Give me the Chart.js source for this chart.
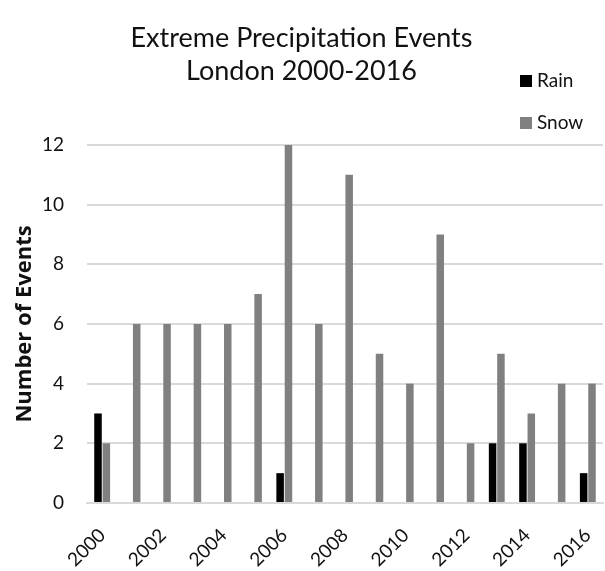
<!DOCTYPE html>
<html>
<head>
<meta charset="utf-8">
<script src="https://cdn.jsdelivr.net/npm/chart.js@4"></script>
<style>
  html, body { margin: 0; padding: 0; background: #fff; }
  #wrap { width: 605px; height: 571px; position: relative; }
</style>
</head>
<body>
<div id="wrap"><canvas id="c"></canvas></div>
<script>
const years = ['2000','2001','2002','2003','2004','2005','2006','2007','2008',
               '2009','2010','2011','2012','2013','2014','2015','2016'];
const rainEvents = [3, 0, 0, 0, 0, 0, 1, 0, 0, 0, 0, 0, 0, 2, 2, 0, 1];
const snowEvents = [2, 6, 6, 6, 6, 7, 12, 6, 11, 5, 4, 9, 2, 5, 3, 4, 4];
const yTicks = [0, 2, 4, 6, 8, 10, 12];

const FONT = 'Lato, "Open Sans", sans-serif';

// Stacked legend in the upper right, next to the title
const sideLegend = {
  id: 'sideLegend',
  afterDraw(chart) {
    const ctx = chart.ctx;
    ctx.save();
    ctx.font = '19px ' + FONT;
    ctx.textBaseline = 'middle';
    const items = [[0, 81], [1, 123]];
    items.forEach(([i, y]) => {
      const ds = chart.data.datasets[i];
      ctx.fillStyle = ds.backgroundColor;
      ctx.fillRect(520, y - 6, 12, 12);
      ctx.fillStyle = '#111';
      ctx.fillText(ds.label, 537, y);
    });
    ctx.restore();
  }
};

new Chart(document.getElementById('c'), {
  type: 'bar',
  data: {
    labels: years,
    datasets: [
      { label: 'Rain', data: rainEvents, backgroundColor: '#000000' },
      { label: 'Snow', data: snowEvents, backgroundColor: '#808080' }
    ]
  },
  options: {
    responsive: true,
    maintainAspectRatio: false,
    animation: false,
    categoryPercentage: 0.55,
    barPercentage: 0.9,
    layout: { padding: { left: 0, right: 2, top: 0, bottom: 0 } },
    plugins: {
      legend: { display: false },
      tooltip: { enabled: false },
      title: {
        display: true,
        text: ['Extreme Precipitation Events', 'London 2000-2016'],
        color: '#111',
        font: { family: FONT, size: 27, weight: 'normal', lineHeight: 1.22 },
        padding: { top: 22, bottom: 57 }
      }
    },
    scales: {
      x: {
        grid: { display: false },
        border: { display: true, color: '#d9d9d9', width: 2 },
        afterFit: (scale) => {
          scale.height = 68;
          scale.paddingLeft = 0;
          scale.paddingRight = 0;
        },
        ticks: {
          autoSkip: false,
          minRotation: 45,
          maxRotation: 45,
          color: '#111',
          font: { family: FONT, size: 19 },
          padding: 13,
          callback: function (v, i) { return i % 2 === 0 ? this.getLabelForValue(v) : ''; }
        }
      },
      y: {
        min: 0,
        max: 12,
        afterBuildTicks: (axis) => { axis.ticks = yTicks.map(v => ({ value: v })); },
        afterFit: (scale) => { scale.width = 87; },
        grid: { color: '#d9d9d9', lineWidth: 2, drawTicks: false },
        border: { display: false },
        ticks: {
          color: '#111',
          font: { family: FONT, size: 19 },
          padding: 23
        },
        title: {
          display: true,
          text: 'Number of Events',
          color: '#111',
          font: { family: '"Open Sans", Lato, sans-serif', size: 22, weight: 'bold' },
          padding: { top: 12, bottom: 0 }
        }
      }
    }
  },
  plugins: [sideLegend]
});
</script>
</body>
</html>
